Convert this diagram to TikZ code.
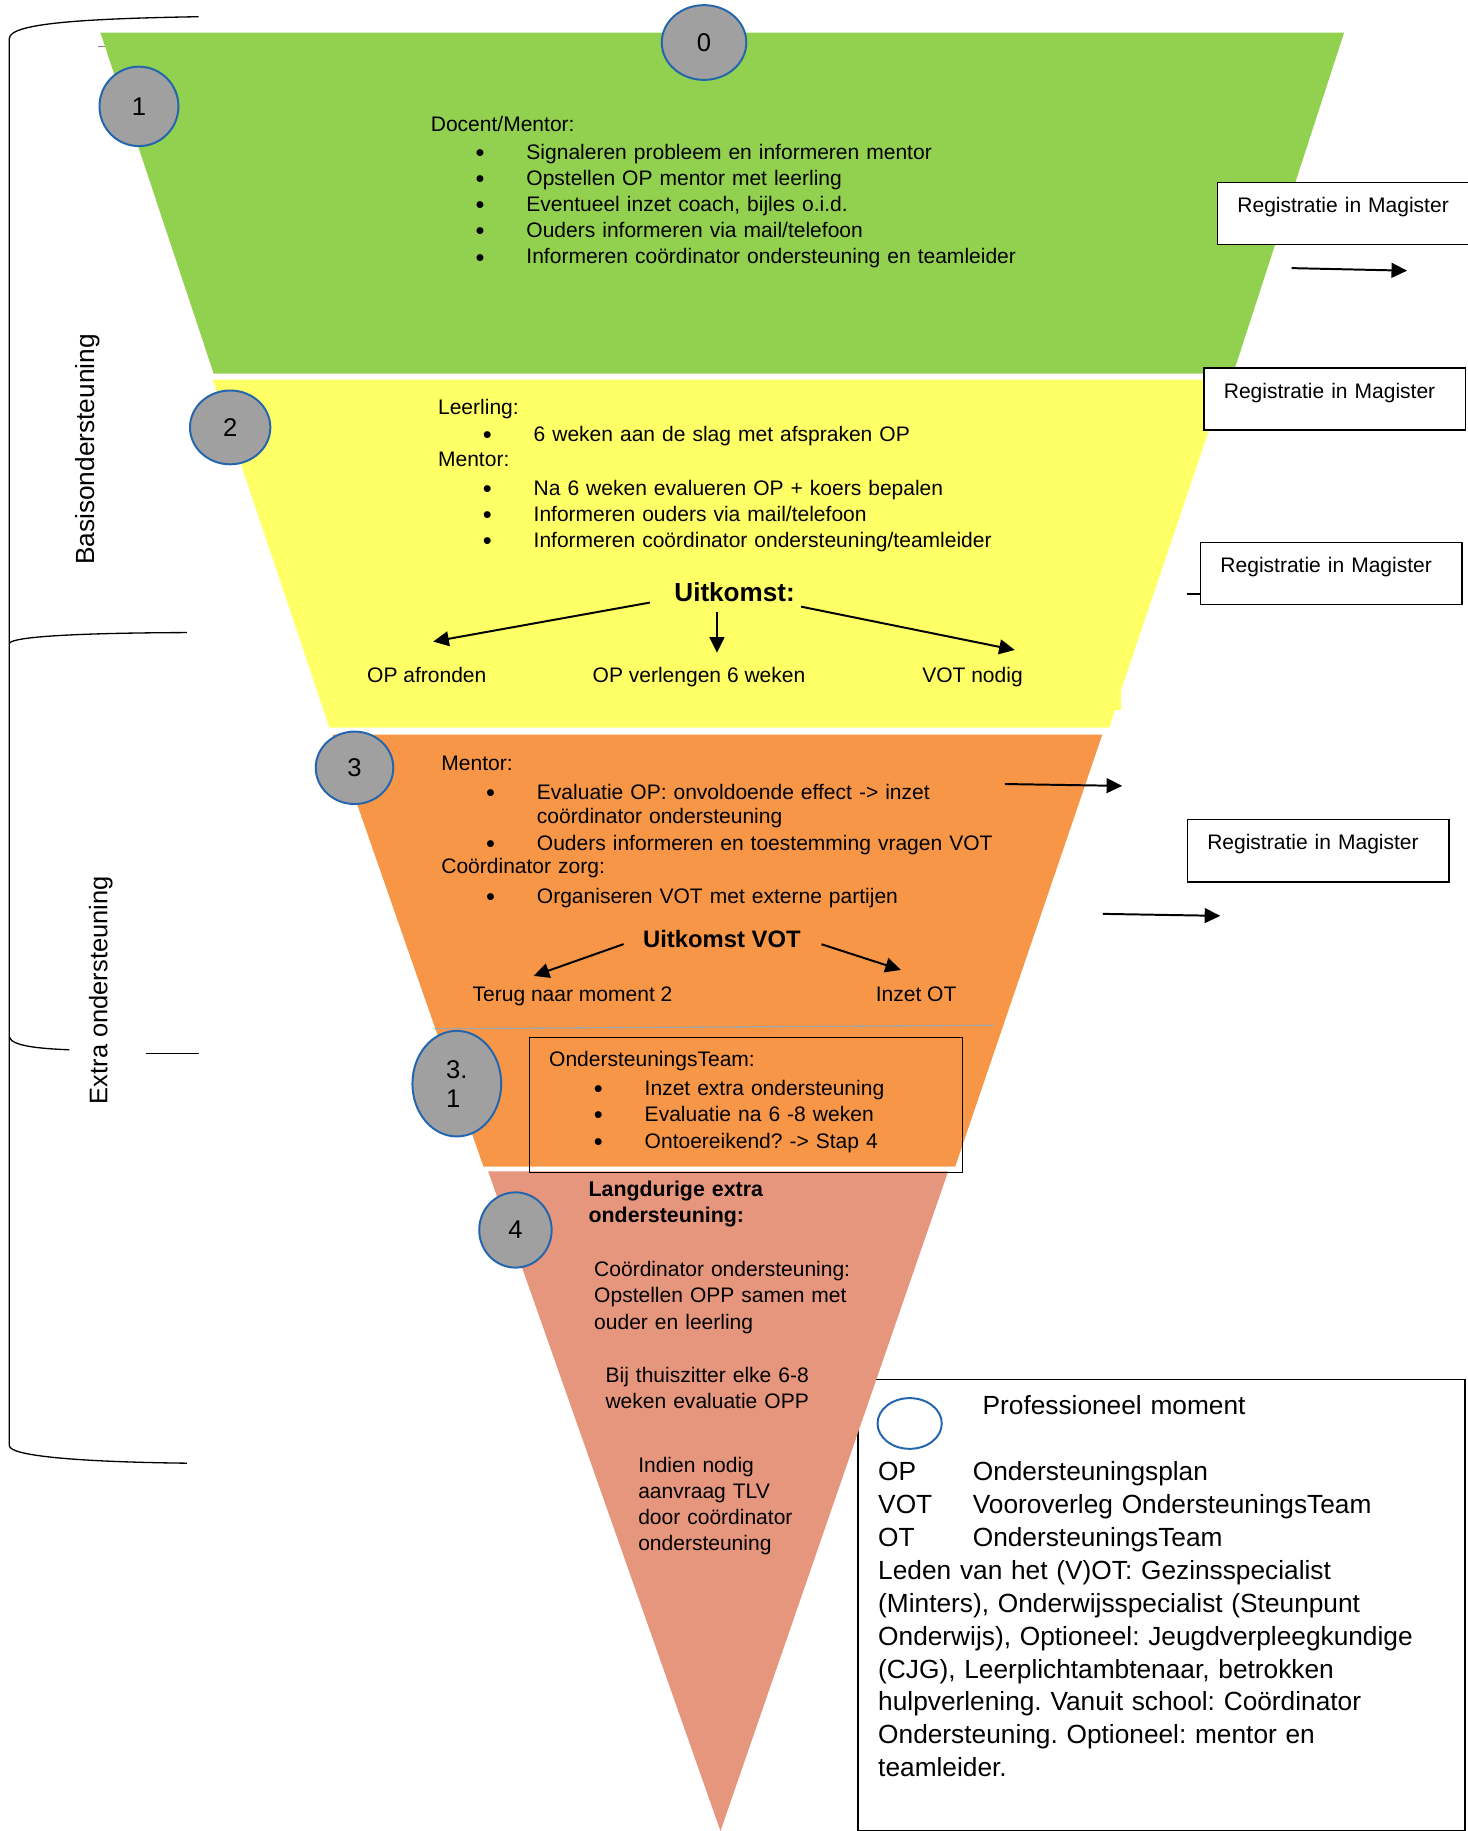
\documentclass[tikz,border=0pt]{standalone}
\usepackage{fontspec}
\setmainfont{Liberation Sans}
\usepackage{xcolor}
\usepackage{tikz}
\usetikzlibrary{positioning,arrows.meta,shapes.geometric}
\frenchspacing

\definecolor{basisgroen}{HTML}{92D050}
\definecolor{basisgeel}{HTML}{FFFF66}
\definecolor{extraoranje}{HTML}{F79646}
\definecolor{langzalm}{HTML}{E5967C}
\definecolor{momentgrijs}{HTML}{A0A0A0}
\definecolor{momentrand}{HTML}{2365AE}

% opsommingsteken en inspringing
\newcommand{\opsom}[1]{\hspace*{27.2pt}\makebox[31pt][l]{\raisebox{-1.4pt}{\fontsize{15.5}{15.5}\selectfont\textbullet}}#1}
\newcommand{\vervolg}[1]{\hspace*{58.2pt}#1}

\begin{document}
\begin{tikzpicture}[x=0.025cm, y=-0.025cm,
	font=\fontsize{12.8}{15.9}\selectfont,
	% tekstblokken in de trechter (basislijn = eerste regel)
	tekst/.style={anchor=base west, inner sep=0pt, text width=15cm, align=left},
	% genummerde momenten (grijze ellipsen)
	moment/.style={ellipse, draw=momentrand, line width=1.2pt, fill=momentgrijs,
		inner sep=0pt, font=\fontsize{15.6}{17.6}\selectfont},
	% kaders "Registratie in Magister"
	registratie/.style={draw, fill=white, line width=0.9pt, anchor=north west,
		inner xsep=12.1pt, inner ysep=9pt, text width=135pt, align=left,
		text height=9.3pt, text depth=10.6pt},
	% pijlen
	pijl/.style={-{Triangle[length=9.5pt,width=9pt]}, line width=1.2pt},
	% uitkomst en keuzes
	uitkomst/.style={anchor=base, inner sep=0pt, font=\bfseries\fontsize{15.9}{18}\selectfont},
	keuze/.style={anchor=base, inner sep=0pt},
	% accolades en zijlabels links
	accolade/.style={line width=0.8pt},
	zijlabel/.style={rotate=90, anchor=base, inner sep=0pt}
	]
	
	\useasboundingbox (0,0) rectangle (1257,1568);
	
	% ================= Legenda-kader (onder de trechter) =================
	\node[draw, line width=0.7pt, anchor=north west, inner sep=0pt,
		minimum width=12.99cm, minimum height=9.65cm] (legenda) at (734.3,1181) {};
	
	% ================= Trechter =================
	\fill[basisgroen] (86,28) -- (1151,28) -- (1056,320) -- (183,320) -- cycle;
	\fill[basisgeel] (182,325) -- (1050,325) -- (960,591) -- (960,608) -- (955,608)
		-- (950,623) -- (282,623) -- cycle;
	\fill[extraoranje] (285,629) -- (944,629) -- (818,999) -- (414,999) -- cycle;
	\fill[langzalm] (418,1003) -- (812,1003) -- (617,1568) -- cycle;
	
	% scheiding moment 3 / 3.1
	\draw[gray!70, line width=0.8pt] (372,881) -- (851,878);
	\draw[gray, line width=0.8pt] (84,40) -- (90,40);
	
	% ================= Accolades links =================
	\draw[accolade] (170,14.3) .. controls (70,16) and (8,20) .. (8,33) -- (8,1238)
		.. controls (8,1247) and (70,1252) .. (160,1253);
	\draw[accolade] (8,551) .. controls (10,545) and (70,542) .. (160,541.7);
	\draw[accolade] (8,888) .. controls (10,896) and (35,898) .. (59.4,899);
	\draw[accolade] (125,902) -- (170,902);
	
	\node[zijlabel, font=\fontsize{16}{18}\selectfont] (basis) at (81,385) {Basisondersteuning};
	\node[zijlabel, font=\fontsize{15.5}{18}\selectfont] (extra) at (92,848) {Extra ondersteuning};
	
	% ================= Moment 1: Docent/Mentor =================
	\node[tekst] (docent) at (368.7,112.8) {Docent/Mentor:\\[0.9pt]
		\opsom{Signaleren probleem en informeren mentor}\\
		\opsom{Opstellen OP mentor met leerling}\\
		\opsom{Eventueel inzet coach, bijles o.i.d.}\\
		\opsom{Ouders informeren via mail/telefoon}\\
		\opsom{Informeren coördinator ondersteuning en teamleider}};
	
	% ================= Moment 2: Leerling en Mentor =================
	\node[tekst] (leerling) at (374.9,355.3) {Leerling:\\[0.4pt]
		\opsom{6 weken aan de slag met afspraken OP}\\[-0.7pt]
		Mentor:\\[1.4pt]
		\opsom{Na 6 weken evalueren OP + koers bepalen}\\
		\opsom{Informeren ouders via mail/telefoon}\\
		\opsom{Informeren coördinator ondersteuning/teamleider}};
	
	\node[uitkomst] (uitkomst) at (629.1,515.2) {Uitkomst:};
	\node[keuze] (afronden) at (365.5,584.8) {OP afronden};
	\node[keuze] (verlengen) at (598.6,584.3) {OP verlengen 6 weken};
	\node[keuze] (votnodig) at (832.8,584.3) {VOT nodig};
	
	\coordinate (uL) at (556.6,516);   \coordinate (aL) at (371,549.4);
	\coordinate (uM) at (614,524);     \coordinate (aM) at (614,559);
	\coordinate (uR) at (686,519.5);   \coordinate (aR) at (869,556.6);
	\draw[pijl] (uL) -- (aL);
	\draw[pijl] (uM) -- (aM);
	\draw[pijl] (uR) -- (aR);
	
	% ================= Moment 3: Mentor en Coördinator zorg =================
	\node[tekst] (mentor) at (377.7,660.2) {Mentor:\\[1.3pt]
		\opsom{Evaluatie OP: onvoldoende effect -> inzet}\\[-0.8pt]
		\vervolg{coördinator ondersteuning}\\[0.3pt]
		\opsom{Ouders informeren en toestemming vragen VOT}\\[-1.7pt]
		Coördinator zorg:\\[2pt]
		\opsom{Organiseren VOT met externe partijen}};
	
	\node[uitkomst, font=\bfseries\fontsize{14.5}{17}\selectfont] (uitvot) at (618.2,811.2) {Uitkomst VOT};
	\node[keuze] (terug) at (490.3,857.7) {Terug naar moment 2};
	\node[keuze] (inzetot) at (784.5,857.7) {Inzet OT};
	
	\coordinate (vL) at (534,808.5);   \coordinate (tL) at (457,835.7);
	\coordinate (vR) at (703.5,808.6); \coordinate (tR) at (771.5,830.6);
	\draw[pijl] (vL) -- (tL);
	\draw[pijl] (vR) -- (tR);
	
	% ================= Moment 3.1: OndersteuningsTeam =================
	\node[draw, line width=0.6pt, anchor=north west, inner sep=0pt,
		minimum width=9.28cm, minimum height=2.875cm] (otkader) at (452.7,888.2) {};
	\node[tekst] (otteam) at (470,913.3) {OndersteuningsTeam:\\[1.8pt]
		\opsom{Inzet extra ondersteuning}\\
		\opsom{Evaluatie na 6 -8 weken}\\[0.4pt]
		\opsom{Ontoereikend? -> Stap 4}};
	
	% ================= Moment 4: Langdurige extra ondersteuning =================
	\node[tekst, font=\bfseries\fontsize{13}{15.8}\selectfont] (langdurig) at (503.8,1025)
		{Langdurige extra\\ondersteuning:};
	\node[tekst] (opp) at (508.6,1093.4) {Coördinator ondersteuning:\\Opstellen OPP samen met\\ouder en leerling};
	\node[tekst] (thuiszitter) at (518.3,1183.9) {Bij thuiszitter elke 6-8\\weken evaluatie OPP};
	\node[tekst] (tlv) at (546.3,1260.9) {Indien nodig\\aanvraag TLV\\door coördinator\\ondersteuning};
	
	% ================= Registratie in Magister =================
	\node[registratie] (reg1) at (1042,155.6) {Registratie in Magister};
	\node[registratie] (reg2) at (1030.4,314.5) {Registratie in Magister};
	\node[registratie] (reg3) at (1027.5,463.8) {Registratie in Magister};
	\node[registratie] (reg4) at (1016.2,701.3) {Registratie in Magister};
	
	\coordinate (tick3) at (1016.2,508.9);
	\draw[line width=1.2pt] (tick3) -- (tick3 -| reg3.west);
	
	\coordinate (r1a) at (1106,229.6);  \coordinate (r1b) at (1205,231.8);
	\coordinate (r2a) at (860.5,671.4); \coordinate (r2b) at (961,673);
	\coordinate (r3a) at (944.5,782.6); \coordinate (r3b) at (1045,784.3);
	\draw[pijl] (r1a) -- (r1b);
	\draw[pijl] (r2a) -- (r2b);
	\draw[pijl] (r3a) -- (r3b);
	
	% ================= Momenten =================
	\node[moment, minimum width=1.81cm, minimum height=1.6cm] (m0) at (602.9,36.4) {0};
	\node[moment, minimum width=1.69cm, minimum height=1.7cm] (m1) at (119,91.1) {1};
	\node[moment, minimum width=1.72cm, minimum height=1.58cm] (m2) at (197.1,366) {2};
	\node[moment, minimum width=1.66cm, minimum height=1.55cm] (m3) at (303.6,657.5) {3};
	\node[moment, minimum width=1.9cm, minimum height=2.26cm, align=left] (m31) at (391.2,928) {3.\\1};
	\node[moment, minimum width=1.55cm, minimum height=1.61cm] (m4) at (441.4,1053.3) {4};
	
	% ================= Legenda =================
	\node[moment, fill=none, minimum width=1.375cm, minimum height=1.085cm] (legmoment) at (779,1219) {};
	\node[tekst, font=\fontsize{16}{20}\selectfont] (legprof) at (841.2,1211.6) {Professioneel moment};
	\node[tekst, font=\fontsize{16}{20.05}\selectfont] (legtekst) at (751.8,1267.8) {%
		\makebox[57.6pt][l]{OP}Ondersteuningsplan\\
		\makebox[57.6pt][l]{VOT}Vooroverleg OndersteuningsTeam\\
		\makebox[57.6pt][l]{OT}OndersteuningsTeam\\
		Leden van het (V)OT: Gezinsspecialist\\
		(Minters), Onderwijsspecialist (Steunpunt\\
		Onderwijs), Optioneel: Jeugdverpleegkundige\\
		(CJG), Leerplichtambtenaar, betrokken\\
		hulpverlening. Vanuit school: Coördinator\\
		Ondersteuning. Optioneel: mentor en\\
		teamleider.};
	
\end{tikzpicture}
\end{document}
